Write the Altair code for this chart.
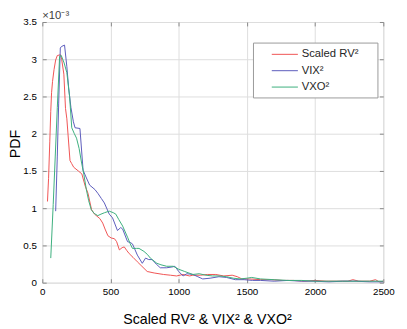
import altair as alt
import pandas as pd

# ---- data (y in units of 1e-3) ----
series_names = ["Scaled RV²", "VIX²", "VXO²"]
series_colors = ["#f05252", "#5a5abb", "#3aae7c"]

rv_x = [38, 46, 55, 62, 68, 75, 86, 98, 110, 134, 142, 158, 170, 180, 203, 215, 230, 264, 290, 314,
        335, 361, 383, 422, 443, 460, 481, 505, 529, 545, 565, 585, 601, 620, 637, 665, 697, 730, 769, 820,
        889, 940, 984, 1032, 1080, 1104, 1160, 1210, 1272, 1330, 1392, 1430, 1463, 1520, 1600, 1680, 1760,
        1840, 1920, 2000, 2080, 2160, 2240, 2277, 2320, 2400, 2443, 2470, 2500]
rv_y = [1.09, 1.40, 1.90, 2.30, 2.55, 2.70, 2.86, 2.99, 3.05, 3.06, 3.00, 2.80, 2.34, 2.20, 1.64, 1.60, 1.55,
        1.50, 1.46, 1.30, 1.20, 0.98, 0.92, 0.86, 0.80, 0.72, 0.63, 0.60, 0.59, 0.55, 0.44, 0.47, 0.48, 0.43,
        0.39, 0.34, 0.28, 0.22, 0.15, 0.13, 0.11, 0.10, 0.09, 0.11, 0.09, 0.10, 0.10, 0.11, 0.11, 0.09, 0.10,
        0.08, 0.05, 0.05, 0.04, 0.04, 0.03, 0.03, 0.02, 0.03, 0.02, 0.02, 0.02, 0.04, 0.02, 0.02, 0.04, 0.01,
        0.02]

vix_x = [98, 110, 120, 132, 140, 163, 180, 194, 210, 228, 240, 276, 299, 320, 347, 386, 407, 433, 455, 491,
         515, 551, 575, 589, 625, 645, 661, 697, 733, 757, 780, 805, 835, 865, 912, 950, 972, 1000, 1032, 1060,
         1104, 1140, 1176, 1230, 1295, 1350, 1415, 1480, 1540, 1600, 1700, 1800, 1900, 2000, 2100, 2200, 2300,
         2400, 2500]
vix_y = [0.96, 1.70, 2.40, 3.15, 3.17, 3.19, 2.90, 2.60, 2.35, 2.16, 2.08, 2.07, 1.51, 1.42, 1.31, 1.25, 1.20,
         1.13, 1.07, 0.92, 0.87, 0.70, 0.74, 0.72, 0.55, 0.54, 0.52, 0.37, 0.26, 0.33, 0.31, 0.31, 0.25, 0.20,
         0.20, 0.21, 0.22, 0.15, 0.09, 0.12, 0.11, 0.08, 0.05, 0.06, 0.08, 0.07, 0.04, 0.04, 0.03, 0.03, 0.02,
         0.03, 0.02, 0.02, 0.01, 0.02, 0.02, 0.01, 0.01]

vxo_x = [62, 80, 95, 110, 127, 139, 160, 180, 200, 216, 235, 251, 270, 287, 305, 323, 340, 359, 380, 407,
         430, 457, 491, 520, 539, 560, 589, 625, 645, 661, 690, 709, 745, 770, 792, 840, 870, 912, 960, 1000,
         1044, 1104, 1150, 1200, 1248, 1300, 1350, 1400, 1450, 1500, 1535, 1600, 1700, 1800, 1900, 2000, 2100,
         2200, 2300, 2400, 2500]
vxo_y = [0.33, 1.05, 1.70, 2.35, 3.04, 3.05, 2.95, 2.82, 2.50, 2.08, 2.00, 1.94, 1.80, 1.62, 1.45, 1.25, 1.10,
         0.98, 0.93, 0.90, 0.92, 0.94, 0.96, 0.94, 0.92, 0.85, 0.76, 0.61, 0.52, 0.46, 0.46, 0.46, 0.42, 0.38,
         0.33, 0.26, 0.24, 0.22, 0.22, 0.18, 0.15, 0.11, 0.12, 0.10, 0.09, 0.09, 0.08, 0.06, 0.05, 0.06, 0.07,
         0.05, 0.04, 0.03, 0.03, 0.02, 0.02, 0.02, 0.02, 0.02, 0.02]

x_ticks = [0, 500, 1000, 1500, 2000, 2500]
y_ticks = [0, 0.5, 1, 1.5, 2, 2.5, 3, 3.5]

frames = []
for name, xs, ys in zip(series_names, [rv_x, vix_x, vxo_x], [rv_y, vix_y, vxo_y]):
    frames.append(pd.DataFrame({"x": xs, "y": ys, "series": name}))
df = pd.concat(frames, ignore_index=True)

FONT = "Liberation Sans"
AXIS_C = "#8c8c8c"
TEXT_C = "#404040"

xscale = alt.Scale(domain=[0, 2500], nice=False, zero=False)
yscale = alt.Scale(domain=[0, 3.5], nice=False, zero=False)

lines = alt.Chart(df).mark_line(strokeWidth=1, clip=True).encode(
    x=alt.X("x:Q", scale=xscale,
            axis=alt.Axis(orient="bottom", values=x_ticks, format="d", offset=-4, tickSize=4,
                          domain=False, labelPadding=4, labelFlush=False,
                          title="Scaled RV² & VIX² & VXO²", titleFontSize=14.5,
                          titleFontWeight="normal", titleX=168, titleY=45.5,
                          titleBaseline="alphabetic", titleAlign="center")),
    y=alt.Y("y:Q", scale=yscale,
            axis=alt.Axis(orient="left", values=y_ticks, format="~g", offset=-4, tickSize=4,
                          domain=False, labelPadding=6, labelFlush=False,
                          title="PDF", titleFontSize=14.5, titleFontWeight="normal",
                          titleAngle=270, titleX=-38, titleY=124, titleBaseline="top",
                          titleAlign="center")),
    color=alt.Color("series:N", scale=alt.Scale(domain=series_names, range=series_colors),
                    legend=alt.Legend(orient="none", legendX=215, legendY=21, title="\u2003",
                                      titleOrient="right", titlePadding=14, titleFontSize=11.5,
                                      strokeColor="#9a9a9a", fillColor="white", padding=5,
                                      symbolType="M-2.05,0H2.05", symbolSize=169,
                                      symbolStrokeWidth=1, symbolOffset=20.5, labelOffset=10.2,
                                      labelFontSize=11.5, labelFont=FONT, labelColor="#262626",
                                      rowPadding=3.7)),
)

frame = alt.Chart(df).mark_line(opacity=0).encode(
    x=alt.X("x:Q", scale=xscale,
            axis=alt.Axis(orient="top", values=x_ticks, labels=False, offset=-4, tickSize=4,
                          domain=False, title=None)),
    y=alt.Y("y:Q", scale=yscale,
            axis=alt.Axis(orient="right", values=y_ticks, labels=False, offset=-4, tickSize=4,
                          domain=False, title=None)),
    detail="series:N",
)

chart = alt.layer(frame, lines).resolve_axis(x="independent", y="independent").properties(
    width=348, height=266,
    autosize=alt.AutoSizeParams(type="none"),
    padding={"left": 35, "top": 11, "right": 16, "bottom": 44},
    title=alt.TitleParams("×10⁻³", anchor="start", frame="group", fontSize=11.5,
                          fontWeight="normal", font=FONT, color=TEXT_C, offset=-4, dy=9,
                          baseline="alphabetic"),
).configure_view(stroke=AXIS_C, strokeWidth=1).configure_axis(
    grid=False, labelFont=FONT, labelFontSize=12.5, labelColor=TEXT_C,
    tickColor=AXIS_C, tickWidth=1, titleFont=FONT, titleColor=TEXT_C,
).configure(background="white")

chart.save("out.html", embed_options={"renderer": "svg", "actions": False})
